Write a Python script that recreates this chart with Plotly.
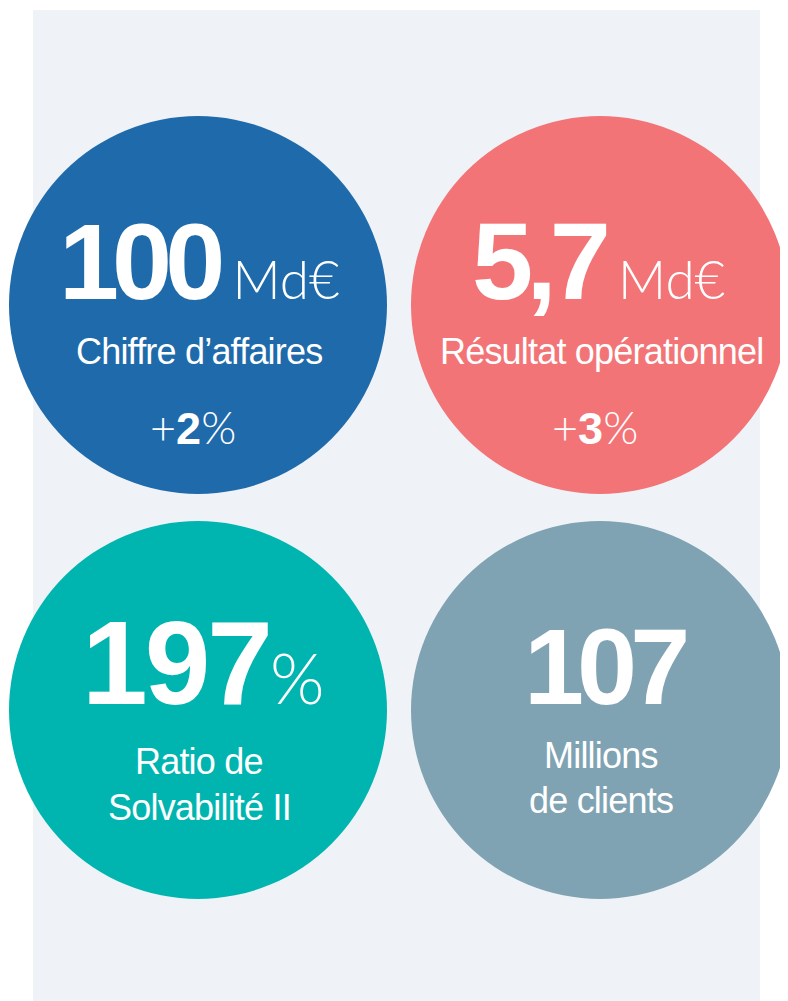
import plotly.graph_objects as go

# ---- data ----
values = ["100", "5,7", "197", "107"]
units = ["Md€", "Md€", "%", ""]
labels = [["Chiffre d’affaires"], ["Résultat opérationnel"], ["Ratio de", "Solvabilité II"], ["Millions", "de clients"]]
change_signs = ["+", "+", "", ""]
change_values = ["2", "3", "", ""]
colors = ["#1F6AAA", "#F27476", "#00B5B0", "#7FA3B2"]

# ---- layout constants (coordinates are page pixels; body has an 8px margin) ----
PAGE_W, PAGE_H = 788, 1001
OFF = 8
W, H = PAGE_W - OFF, PAGE_H - OFF
BG = "#EFF3F7"
col_x = [198, 600]
row_y = [305, 710]
R = 189

SANS = "Liberation Sans, Arial, sans-serif"

fig = go.Figure()
fig.add_trace(go.Scatter(x=[OFF, PAGE_W], y=[OFF, PAGE_H], mode="markers", marker=dict(opacity=0),
                         hoverinfo="skip", showlegend=False))

fig.add_shape(type="rect", x0=33, x1=760, y0=10, y1=PAGE_H + 5, fillcolor=BG, line=dict(width=0), layer="below")


def add_line(x, baseline, html, size, family=SANS, descent=0.212):
    fig.add_annotation(x=x, y=baseline + descent * size, xref="x", yref="y", text=html,
                       showarrow=False, xanchor="center", yanchor="bottom", borderpad=0,
                       font=dict(family=family, size=size, color="white"))


big_sizes = [108, 110, 118, 108]
big_spacing = [-7, -7, -3, -7]
unit_sizes = [53, 53, 70, 0]
space_sizes = [51, 51, 0, 0]
label_offsets = [[60], [60], [65, 111], [59, 104]]
value_dx = [1, -2, 5, 5]
label_dx = [1, 1, 1, 1]

for i in range(4):
    cx = col_x[i % 2]
    cy = row_y[i // 2]
    fig.add_shape(type="circle", x0=cx - R, x1=cx + R, y0=cy - R, y1=cy + R,
                  fillcolor=colors[i], line=dict(width=0), layer="below")
    # main value line
    html = f"<span style='font-weight:bold;letter-spacing:{big_spacing[i]}px'>{values[i]}</span>"
    if units[i]:
        if space_sizes[i]:
            html += f"<span style='font-size:{space_sizes[i]}px'> </span>"
        html += (f"<span style='font-family:Lato;font-weight:300;font-size:{unit_sizes[i]}px'>"
                 f"{units[i]}</span>")
    add_line(cx + value_dx[i], cy - 5, html, big_sizes[i])
    # labels
    for j, lab in enumerate(labels[i]):
        add_line(cx + label_dx[i], cy + label_offsets[i][j],
                 f"<span style='letter-spacing:-0.8px'>{lab}</span>", 36)
    # change
    if change_values[i]:
        html = (f"<span style='font-family:Lato;font-weight:300'>{change_signs[i]}</span>"
                f"<span style='font-weight:bold'>{change_values[i]}</span>"
                f"<span style='font-family:Lato;font-weight:300'>%</span>")
        add_line(cx - 5, cy + 140, html, 45)

fig.update_layout(
    width=W, height=H, margin=dict(l=0, r=0, t=0, b=0),
    paper_bgcolor="white", plot_bgcolor="white",
    xaxis=dict(range=[OFF, PAGE_W], visible=False, fixedrange=True),
    yaxis=dict(range=[PAGE_H, OFF], visible=False, fixedrange=True),
    showlegend=False,
)

fig.write_html("out.html", config={"displayModeBar": False})
